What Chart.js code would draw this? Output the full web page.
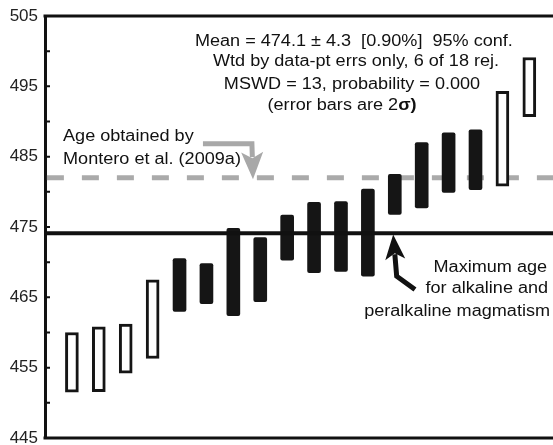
<!DOCTYPE html>
<html>
<head>
<meta charset="utf-8">
<script src="https://cdn.jsdelivr.net/npm/chart.js@4/dist/chart.umd.min.js"></script>
<style>
  html, body { margin: 0; padding: 0; background: #fff; }
  #wrap { width: 553px; height: 445px; }
</style>
</head>
<body>
<div id="wrap"><canvas id="myChart"></canvas></div>
<script>
// analysis number (x position) and 2 sigma age range, Ma
var accX = [5, 6, 7, 8, 9, 10, 11, 12, 13, 14, 15, 16];
var accLow = [463.0, 464.1, 462.4, 464.4, 470.3, 468.5, 468.7, 468.0, 476.8, 477.7, 479.9, 480.3];
var accHigh = [470.5, 469.8, 474.8, 473.5, 476.7, 478.5, 478.6, 480.4, 482.5, 487.0, 488.4, 488.8];

// rejected analyses (open boxes)
var rejX = [1, 2, 3, 4, 17, 18];
var rejLow = [451.5, 451.6, 454.2, 456.3, 480.8, 490.7];
var rejHigh = [460.0, 460.8, 461.2, 467.5, 494.3, 499.1];

var meanAge = 474.1;
var monteroAge = 482;
var yTicks = [445, 455, 465, 475, 485, 495, 505];
var xMax = 18.88;

function pairs(xs, lo, hi) {
    return xs.map(function (x, i) { return {x: x, y: [lo[i], hi[i]]}; });
}

var statLines = [
    'Mean = 474.1 \u00b1 4.3  [0.90%]  95% conf.',
    'Wtd by data-pt errs only, 6 of 18 rej.',
    'MSWD = 13, probability = 0.000'
];

// annotation anchors in data units
var notes = {
    stats: {x: [11.48, 11.56, 11.41], y: [501.4, 498.45, 495.3]},
    sigma: {x: 11.04, y: 492.2},
    montero: {x: 0.67, y: [487.8, 484.6], text: ['Age obtained by', 'Montero et al. (2009a)']},
    maxAge: {x: [18.66, 18.7, 18.77], y: [469.25, 466.25, 463.0],
             text: ['Maximum age', 'for alkaline and', 'peralkaline magmatism']},
    grayArrow: [[5.87, 486.84], [7.69, 486.84], [7.73, 481.8]],
    blackArrow: [[13.75, 466.1], [13.07, 468.0], [12.94, 473.95]]
};

var FONT = '"Liberation Sans", Arial, sans-serif';
var STRETCH = 1.13; // the original lettering is a bit wide

function wideText(ctx, t, x, y) {
    ctx.save();
    ctx.translate(x, y);
    ctx.scale(STRETCH, 1);
    ctx.fillText(t, 0, 0);
    ctx.restore();
}

function arrow(ctx, sx, sy, pts, color, lw, headLen, headW) {
    var p = pts.map(function (q) { return [sx.getPixelForValue(q[0]), sy.getPixelForValue(q[1])]; });
    var n = p.length;
    var tip = p[n - 1], prev = p[n - 2];
    var dx = tip[0] - prev[0], dy = tip[1] - prev[1];
    var len = Math.sqrt(dx * dx + dy * dy);
    var ux = dx / len, uy = dy / len;
    var bx = tip[0] - ux * headLen, by = tip[1] - uy * headLen;
    ctx.save();
    ctx.strokeStyle = color;
    ctx.fillStyle = color;
    ctx.lineWidth = lw;
    ctx.lineJoin = 'miter';
    ctx.beginPath();
    ctx.moveTo(p[0][0], p[0][1]);
    for (var i = 1; i < n - 1; i++) ctx.lineTo(p[i][0], p[i][1]);
    ctx.lineTo(bx + ux * 2, by + uy * 2);
    ctx.stroke();
    ctx.beginPath();
    ctx.moveTo(tip[0], tip[1]);
    ctx.lineTo(bx - uy * headW - ux * 3, by + ux * headW - uy * 3);
    ctx.lineTo(bx + ux * 3, by + uy * 3);
    ctx.lineTo(bx + uy * headW - ux * 3, by - ux * headW - uy * 3);
    ctx.closePath();
    ctx.fill();
    ctx.restore();
}

var extras = {
    id: 'extras',
    afterDraw: function (chart) {
        var ctx = chart.ctx, a = chart.chartArea;
        var sx = chart.scales.x, sy = chart.scales.y;
        ctx.save();
        // frame top and bottom
        ctx.strokeStyle = '#111';
        ctx.lineWidth = 3;
        ctx.beginPath();
        ctx.moveTo(a.left - 1.5, a.top);
        ctx.lineTo(a.right, a.top);
        ctx.moveTo(a.left - 1.5, a.bottom);
        ctx.lineTo(a.right, a.bottom);
        ctx.stroke();
        // inward ticks every 5
        ctx.lineWidth = 2;
        ctx.beginPath();
        for (var v = 450; v < 505; v += 5) {
            var py = sy.getPixelForValue(v);
            ctx.moveTo(a.left, py);
            ctx.lineTo(a.left + 5, py);
        }
        ctx.stroke();

        // text
        ctx.fillStyle = '#111';
        ctx.font = '16px ' + FONT;
        ctx.textBaseline = 'middle';
        ctx.textAlign = 'center';
        statLines.forEach(function (t, i) {
            wideText(ctx, t, sx.getPixelForValue(notes.stats.x[i]), sy.getPixelForValue(notes.stats.y[i]));
        });
        var s1 = '(error bars are 2', s2 = '\u03c3)';
        var w1 = ctx.measureText(s1).width * STRETCH;
        ctx.font = 'bold 16px ' + FONT;
        var w2 = ctx.measureText(s2).width * STRETCH;
        var cx = sx.getPixelForValue(notes.sigma.x), cy = sy.getPixelForValue(notes.sigma.y);
        ctx.textAlign = 'left';
        wideText(ctx, s2, cx - (w1 + w2) / 2 + w1, cy);
        ctx.font = '16px ' + FONT;
        wideText(ctx, s1, cx - (w1 + w2) / 2, cy);

        notes.montero.text.forEach(function (t, i) {
            wideText(ctx, t, sx.getPixelForValue(notes.montero.x), sy.getPixelForValue(notes.montero.y[i]));
        });
        ctx.textAlign = 'right';
        notes.maxAge.text.forEach(function (t, i) {
            wideText(ctx, t, sx.getPixelForValue(notes.maxAge.x[i]), sy.getPixelForValue(notes.maxAge.y[i]));
        });
        ctx.restore();

        arrow(ctx, sx, sy, notes.grayArrow, '#a8a8a8', 5, 24, 11);
        arrow(ctx, sx, sy, notes.blackArrow, '#111', 5, 22, 10);
    }
};

var ctx = document.getElementById('myChart').getContext('2d');
var myChart = new Chart(ctx, {
    type: 'bar',
    data: {
        datasets: [
            {
                type: 'line',
                label: 'Montero et al. (2009a)',
                data: [{x: 0.07, y: monteroAge}, {x: xMax, y: monteroAge}],
                borderColor: '#aaaaaa',
                borderWidth: 5,
                borderDash: [17, 18],
                pointRadius: 0,
                order: 3
            },
            {
                label: 'accepted',
                data: pairs(accX, accLow, accHigh),
                backgroundColor: '#151515',
                borderColor: '#151515',
                borderWidth: 0,
                borderRadius: 2,
                borderSkipped: false,
                barThickness: 13,
                grouped: false,
                order: 2
            },
            {
                label: 'rejected',
                data: pairs(rejX, rejLow, rejHigh),
                backgroundColor: '#ffffff',
                borderColor: '#151515',
                borderWidth: 3,
                borderSkipped: false,
                barThickness: 13,
                grouped: false,
                order: 2
            },
            {
                type: 'line',
                label: 'mean',
                data: [{x: 0, y: meanAge}, {x: xMax, y: meanAge}],
                borderColor: '#111',
                borderWidth: 4,
                pointRadius: 0,
                order: 1
            }
        ]
    },
    options: {
        responsive: true,
        maintainAspectRatio: false,
        animation: false,
        layout: {padding: {top: 16, bottom: 7, left: 0, right: 0}},
        plugins: {legend: {display: false}, tooltip: {enabled: false}},
        scales: {
            x: {
                type: 'linear',
                display: false,
                min: 0,
                max: xMax,
                offset: false
            },
            y: {
                min: 445,
                max: 505,
                afterFit: function (s) {
                    s.width = 45;
                    s.paddingTop = 0;
                    s.paddingBottom = 0;
                },
                afterBuildTicks: function (s) {
                    s.ticks = yTicks.map(function (v) { return {value: v}; });
                },
                grid: {display: false, drawTicks: false},
                border: {display: true, color: '#111', width: 3},
                ticks: {
                    color: '#222',
                    padding: 7,
                    font: {family: FONT, size: 17}
                }
            }
        }
    },
    plugins: [extras]
});
</script>
</body>
</html>
